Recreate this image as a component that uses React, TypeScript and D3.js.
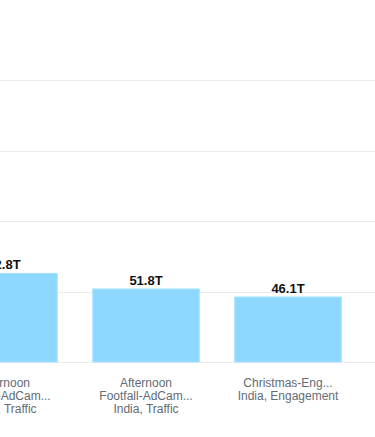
import React, { useEffect, useRef } from "react";
import * as d3 from "d3";

// campaigns shown (the first one is partly scrolled off to the left)
const categories = ["afternoon-traffic-1", "afternoon-traffic-2", "christmas-engagement"];
const labelLines = [
  ["Afternoon", "Footfall-AdCam...", "India, Traffic"],
  ["Afternoon", "Footfall-AdCam...", "India, Traffic"],
  ["Christmas-Eng...", "India, Engagement"],
];
const values = [62.8, 51.8, 46.1]; // in T
const yTicks = [0, 50, 100, 150, 200];

export default function App() {
  const ref = useRef<SVGSVGElement>(null);

  useEffect(() => {
    const width = 375,
      height = 437;
    const svg = d3.select(ref.current);
    svg.selectAll("*").remove();

    var x = d3
      .scaleBand()
      .domain(categories)
      .range([-67, -67 + 142 * categories.length])
      .paddingInner(0.25)
      .paddingOuter(0.125);

    var y = d3.scaleLinear().domain([0, 200]).range([362, 80]);

    // grid lines
    svg
      .append("g")
      .selectAll("line")
      .data(yTicks)
      .enter()
      .append("line")
      .attr("x1", 0)
      .attr("x2", width)
      .attr("y1", (d) => Math.round(y(d)) + 0.5)
      .attr("y2", (d) => Math.round(y(d)) + 0.5)
      .attr("stroke", "#ebebeb")
      .attr("stroke-width", 1);

    // bars
    svg
      .append("g")
      .selectAll("rect")
      .data(values)
      .enter()
      .append("rect")
      .attr("x", (d, i) => x(categories[i]) as number)
      .attr("y", (d) => y(d))
      .attr("width", x.bandwidth())
      .attr("height", (d) => y(0) - y(d))
      .attr("fill", "#8cd8ff")
      .attr("stroke", "#a6e1ff")
      .attr("stroke-width", 1);

    // value labels
    svg
      .append("g")
      .selectAll("text")
      .data(values)
      .enter()
      .append("text")
      .attr("x", (d, i) => (x(categories[i]) as number) + x.bandwidth() / 2)
      .attr("y", (d) => y(d) - 4)
      .attr("text-anchor", "middle")
      .attr("font-family", "Arial, 'Liberation Sans', sans-serif")
      .attr("font-size", 13)
      .attr("font-weight", "bold")
      .attr("fill", "#111")
      .text((d) => d.toFixed(1) + "T");

    // category labels
    const cat = svg
      .append("g")
      .selectAll("text")
      .data(categories)
      .enter()
      .append("text")
      .attr("text-anchor", "middle")
      .attr("font-family", "Arial, 'Liberation Sans', sans-serif")
      .attr("font-size", 12)
      .attr("fill", "#646b75");
    cat
      .selectAll("tspan")
      .data((d, i) => labelLines[i].map((t) => ({ t, c: d })))
      .enter()
      .append("tspan")
      .attr("x", (d) => (x(d.c) as number) + x.bandwidth() / 2)
      .attr("y", (d, j) => 387 + j * 13)
      .text((d) => d.t);

    svg.attr("width", width).attr("height", height);
  }, []);

  return (
    <svg
      ref={ref}
      width={375}
      height={437}
      style={{ position: "absolute", left: 0, top: 0, display: "block" }}
    />
  );
}
